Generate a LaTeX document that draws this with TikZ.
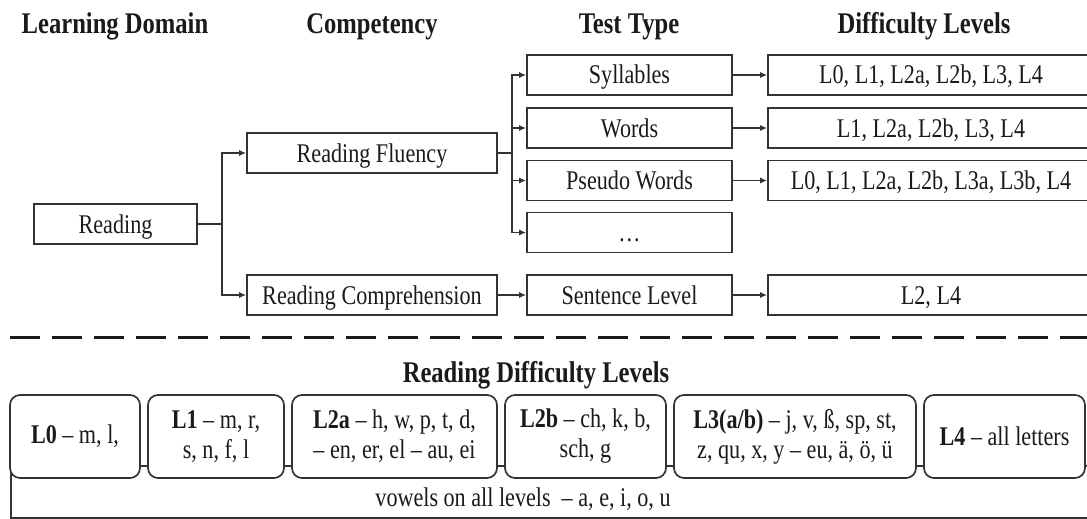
\documentclass[tikz,border=0pt]{standalone}
\usepackage{fontspec}
\setmainfont{Liberation Serif}[FakeStretch=0.82]
\usetikzlibrary{arrows.meta}
\definecolor{ln}{HTML}{333333}
\definecolor{tx}{HTML}{1A1A1A}
\tikzset{
  box/.style={draw=ln, line width=1.7pt, minimum height=40pt, inner sep=0pt,
    text height=18pt, text depth=0pt, text=tx, font=\fontsize{27}{32}\selectfont},
  lvl/.style={draw=ln, line width=1.7pt, rounded corners=10pt, fill=white,
    minimum height=83pt, inner sep=0pt, align=center, text=tx,
    font=\fontsize{27}{30}\selectfont},
  hdr/.style={anchor=base, text=tx, font=\fontsize{30}{34}\selectfont\bfseries},
  conn/.style={draw=ln, line width=1.6pt},
  arr/.style={conn, -{Latex[length=7pt,width=6pt]}},
}
\begin{document}
\begin{tikzpicture}[x=1pt,y=-1pt]
\useasboundingbox (0,0) rectangle (1087,519);
% headers
\node[hdr] (h1) at (115,34) {Learning Domain};
\node[hdr] (h2) at (372,34) {Competency};
\node[hdr] (h3) at (629,34) {Test Type};
\node[hdr] (h4) at (924,34) {Difficulty Levels};
% column 1 and 2
\node[box, minimum width=163pt] (rd) at (115.5,224) {Reading};
\node[box, minimum width=250pt] (rf) at (372,153) {Reading Fluency};
\node[box, minimum width=250pt] (rc) at (372,295) {Reading Comprehension};
% test types
\node[box, minimum width=205pt] (syl) at (629.5,75) {Syllables};
\node[box, minimum width=205pt] (wrd) at (629.5,128) {Words};
\node[box, minimum width=205pt] (psw) at (629.5,180.5) {Pseudo Words};
\node[box, minimum width=205pt] (dts) at (629.5,232.5) {\dots};
\node[box, minimum width=205pt] (snt) at (629.5,295) {Sentence Level};
% difficulty levels
\node[box, minimum width=326pt] (d1) at (931,75) {L0, L1, L2a, L2b, L3, L4};
\node[box, minimum width=326pt] (d2) at (931,128) {L1, L2a, L2b, L3, L4};
\node[box, minimum width=326pt] (d3) at (931,180.5) {L0, L1, L2a, L2b, L3a, L3b, L4};
\node[box, minimum width=326pt] (d5) at (931,295) {L2, L4};
% connectors
\coordinate (j1) at (222,224);
\coordinate (j2) at (512,153);
\draw[conn] (rd.east) -- (j1);
\draw[arr] (j1) |- (rf.west);
\draw[arr] (j1) |- (rc.west);
\draw[conn] (rf.east) -- (j2);
\draw[arr] (j2) |- (syl.west);
\draw[arr] (j2) |- (wrd.west);
\draw[arr] (j2) |- (psw.west);
\draw[arr] (j2) |- (dts.west);
\draw[arr] (rc.east) -- (snt.west);
\draw[arr] (syl.east) -- (d1.west);
\draw[arr] (wrd.east) -- (d2.west);
\draw[arr] (psw.east) -- (d3.west);
\draw[arr] (snt.east) -- (d5.west);
% separator
\coordinate (sepL) at (10,337);
\coordinate (sepR) at (1087,337);
\draw[draw=tx, line width=3pt, dash pattern=on 30pt off 12pt] (sepL) -- (sepR);
% bottom section
\node[hdr] (h5) at (536,382) {Reading Difficulty Levels};
\node[draw=ln, line width=1.7pt, minimum width=1090pt, minimum height=52pt,
  anchor=north west, inner sep=0pt] (base) at (10,465) {};
\node[anchor=base, text=tx, font=\fontsize{27}{30}\selectfont] (vow) at (523,506)
  {vowels on all levels \ – a, e, i, o, u};
\node[lvl, minimum width=130pt] (l0) at (75,436.5) {\textbf{L0} – m, l,};
\node[lvl, minimum width=136pt] (l1) at (216,436.5) {\textbf{L1} – m, r,\\ s, n, f, l};
\node[lvl, minimum width=205pt] (l2a) at (394.5,436.5) {\textbf{L2a} – h, w, p, t, d,\\ – en, er, el – au, ei};
\node[lvl, minimum width=161pt] (l2b) at (585.5,436.5) {\textbf{L2b} – ch, k, b,\\ sch, g};
\node[lvl, minimum width=242pt] (l3) at (795,436.5) {\textbf{L3(a/b)} – j, v, ß, sp, st,\\ z, qu, x, y – eu, ä, ö, ü};
\node[lvl, minimum width=161pt] (l4) at (1004.5,436.5) {\textbf{L4} – all letters};
\end{tikzpicture}
\end{document}
